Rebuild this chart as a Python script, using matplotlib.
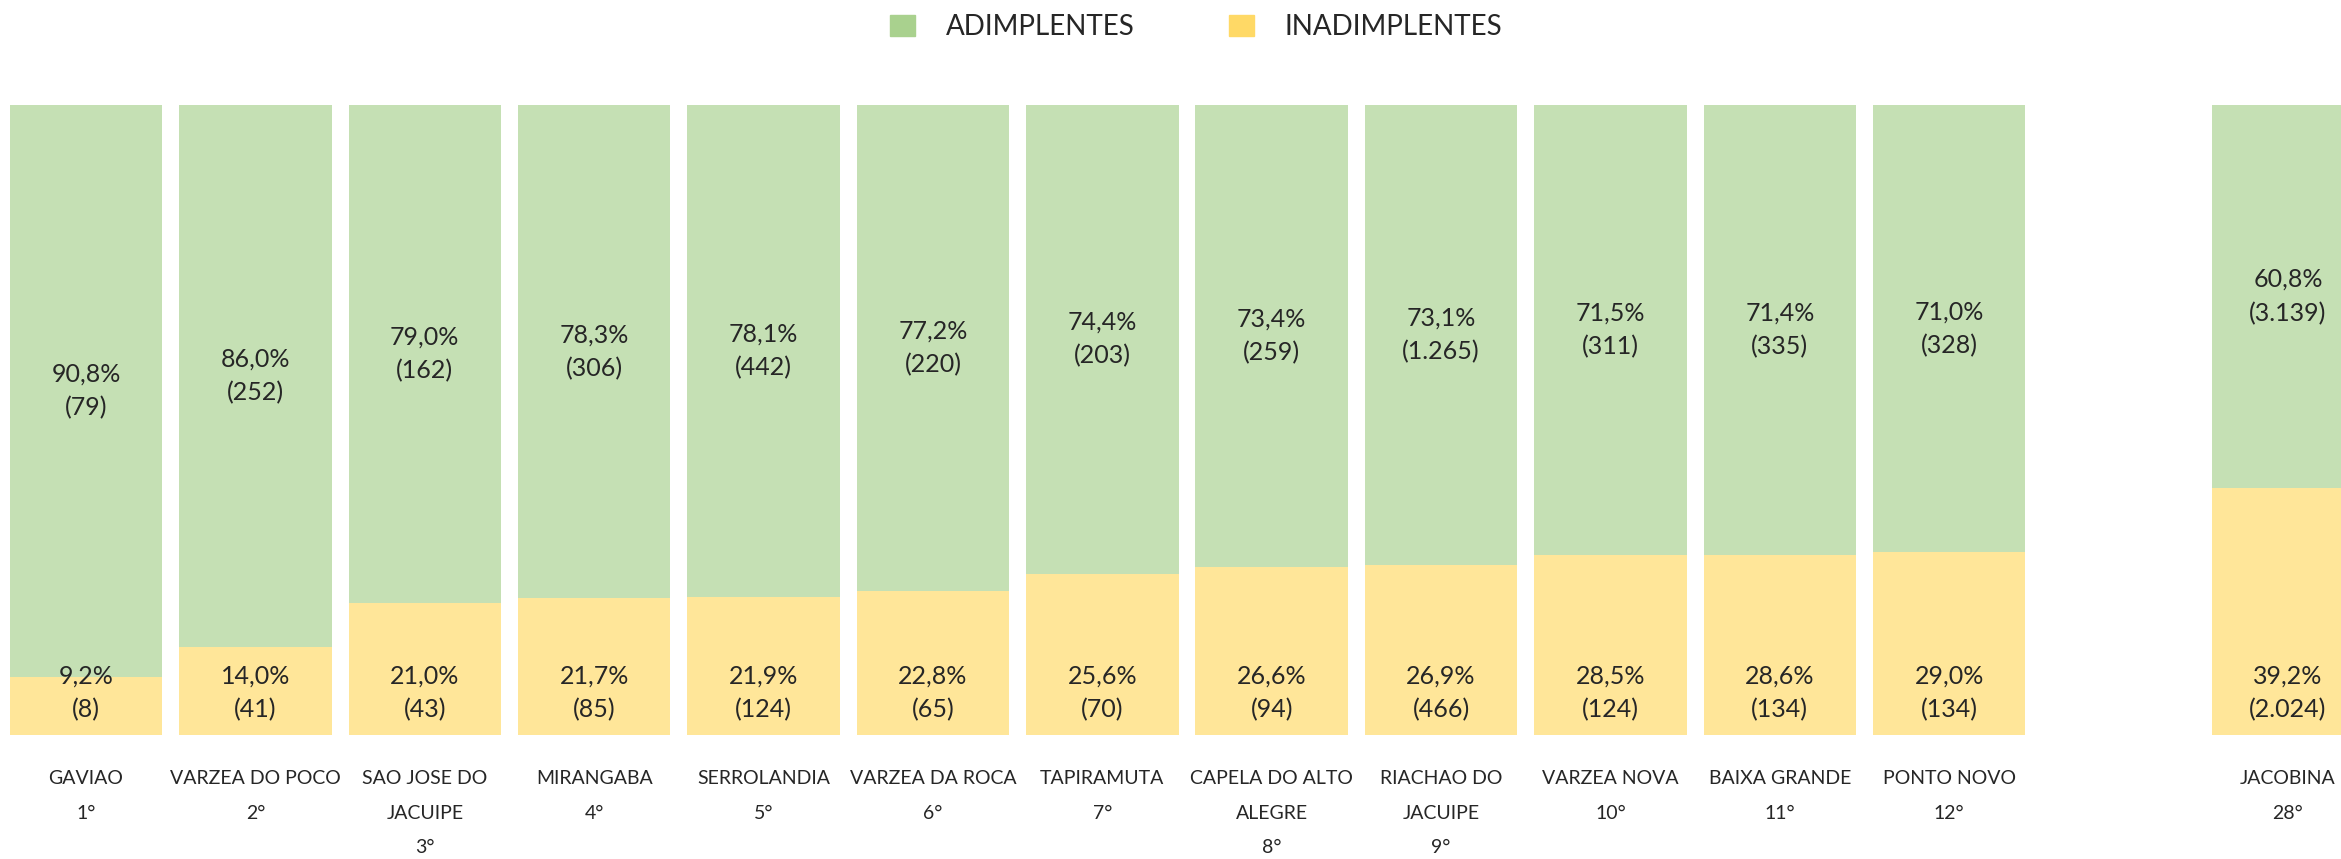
import matplotlib.pyplot as plt
from matplotlib.patches import Patch
from matplotlib.transforms import blended_transform_factory

plt.rcParams['font.family'] = ['Lato', 'DejaVu Sans']

# municipalities ranked by share of adimplentes
cities = ["GAVIAO", "VARZEA DO POCO", "SAO JOSE DO\nJACUIPE", "MIRANGABA",
          "SERROLANDIA", "VARZEA DA ROCA", "TAPIRAMUTA", "CAPELA DO ALTO\nALEGRE",
          "RIACHAO DO\nJACUIPE", "VARZEA NOVA", "BAIXA GRANDE", "PONTO NOVO",
          "JACOBINA"]
ranks = [1, 2, 3, 4, 5, 6, 7, 8, 9, 10, 11, 12, 28]
slots = [0, 1, 2, 3, 4, 5, 6, 7, 8, 9, 10, 11, 13]

adimp_pct = [90.8, 86.0, 79.0, 78.3, 78.1, 77.2, 74.4, 73.4, 73.1, 71.5, 71.4, 71.0, 60.8]
adimp_n = [79, 252, 162, 306, 442, 220, 203, 259, 1265, 311, 335, 328, 3139]
inad_pct = [9.2, 14.0, 21.0, 21.7, 21.9, 22.8, 25.6, 26.6, 26.9, 28.5, 28.6, 29.0, 39.2]
inad_n = [8, 41, 43, 85, 124, 65, 70, 94, 466, 124, 134, 134, 2024]

green_bar, green_key = '#C5E0B4', '#A9D18E'
yellow_bar, yellow_key = '#FFE699', '#FFD966'
txt = '#262626'


def pct(v):
    return f"{v:.1f}%".replace('.', ',')


def num(v):
    return f"({v:,})".replace(',', '.')


fig = plt.figure(figsize=(23.41, 8.59), dpi=100)
ax = fig.add_axes([0, 0.1444, 1, 0.7334])

ax.bar(slots, inad_pct, width=0.9, color=yellow_bar)
ax.bar(slots, adimp_pct, width=0.9, bottom=inad_pct, color=green_bar)

for x, ap, an, ip, inn in zip(slots, adimp_pct, adimp_n, inad_pct, inad_n):
    ax.text(x, ip + ap / 2, f"{pct(ap)}\n{num(an)}", ha='center', va='center',
            fontsize=18, color=txt, linespacing=1.55)
    ax.text(x, 6.7, f"{pct(ip)}\n{num(inn)}", ha='center', va='center',
            fontsize=18, color=txt, linespacing=1.55)

trans = blended_transform_factory(ax.transData, ax.transAxes)
for x, name, r in zip(slots, cities, ranks):
    ax.text(x, -0.056, f"{name}\n{r}°", transform=trans, ha='center', va='top',
            fontsize=14, color=txt, linespacing=2.25, clip_on=False)

ax.set_xlim(-0.508, 13.313)
ax.set_ylim(0, 100)
ax.axis('off')

handles = [Patch(color=green_key, label='ADIMPLENTES'),
           Patch(color=yellow_key, label='INADIMPLENTES')]
fig.legend(handles=handles, loc='center', bbox_to_anchor=(0.511, 0.968), ncol=2,
           frameon=False, fontsize=20, handlelength=0.9, handleheight=0.8,
           handletextpad=1.1, columnspacing=3.4, labelcolor=txt)

fig.savefig('out.png', dpi=100, facecolor='white')
